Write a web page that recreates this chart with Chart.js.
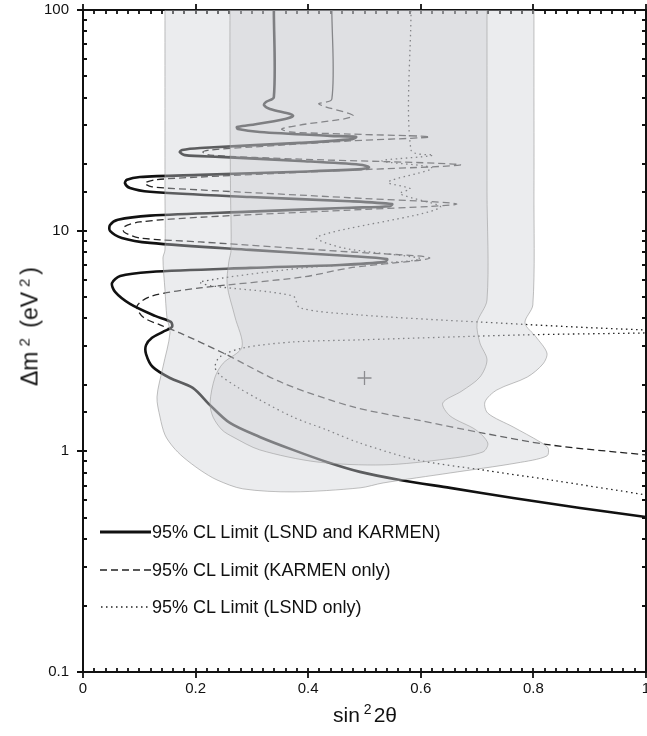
<!DOCTYPE html>
<html>
<head>
<meta charset="utf-8">
<script src="https://cdn.jsdelivr.net/npm/chart.js@4.4.1/dist/chart.umd.min.js"></script>
<style>
  body { margin: 0; background: #fff; }
  #wrap { position: relative; width: 647px; height: 736px; font-family: "Liberation Sans", Arial, sans-serif; color: #111; }
  canvas { position: absolute; left: 0; top: 0; }
  .ttl { position: absolute; font-size: 21px; white-space: nowrap; text-align: center; }
  .ttl sup { font-size: 14px; vertical-align: 0; position: relative; top: -8px; margin: 0 2px 0 4px; }
  #ytitle { left: -70px; top: 313px; width: 200px; font-size: 23px; transform: rotate(-90deg); }
  #ytitle sup { font-size: 15px; margin: 0 4px 0 5px; }
  #xtitle { left: 265px; top: 703px; width: 200px; }
  .leg { position: absolute; left: 100px; height: 22px; font-size: 18px; line-height: 22px; white-space: nowrap; }
  .leg svg { position: absolute; left: 0; top: 6px; }
  .leg span { position: absolute; left: 52px; top: 0; }
</style>
</head>
<body>
<div id="wrap">
  <canvas id="c" width="647" height="736"></canvas>
  <div class="ttl" id="ytitle">&Delta;m<sup>2</sup> (eV<sup>2</sup>)</div>
  <div class="ttl" id="xtitle">sin<sup>2</sup>2&theta;</div>
  <div class="leg" style="top:521px"><svg width="52" height="10"><line x1="0" y1="5" x2="51" y2="5" stroke="#111" stroke-width="3"/></svg><span>95% CL Limit (LSND and KARMEN)</span></div>
  <div class="leg" style="top:559px"><svg width="52" height="10"><line x1="0" y1="5" x2="51" y2="5" stroke="#222" stroke-width="1.3" stroke-dasharray="7 4"/></svg><span>95% CL Limit (KARMEN only)</span></div>
  <div class="leg" style="top:596px"><svg width="52" height="10"><line x1="1" y1="5" x2="51" y2="5" stroke="#222" stroke-width="1.3" stroke-dasharray="1.5 3.5"/></svg><span>95% CL Limit (LSND only)</span></div>
</div>
<script>
// sin^2 2theta , delta m^2 (eV^2)

// combined LSND + KARMEN limit
const limitBoth = [
  [0.339,100],[0.339,40.3],[0.325,38.3],[0.3215,37.1],[0.332,35.6],[0.368,33.8],[0.373,33.1],[0.359,32.1],
  [0.297,30.1],[0.2735,29.5],[0.275,28.9],[0.314,28.0],[0.439,26.9],[0.485,26.6],[0.478,26.0],[0.385,25.0],
  [0.208,23.7],[0.176,23.2],[0.172,22.7],[0.181,22.0],[0.243,21.6],[0.385,20.7],[0.492,19.9],[0.508,19.4],
  [0.495,19.0],[0.385,18.5],[0.208,17.9],[0.101,17.5],[0.078,17.0],[0.0746,16.4],[0.0835,15.6],[0.119,15.0],
  [0.297,14.2],[0.474,13.6],[0.549,13.2],[0.545,12.9],[0.474,12.7],[0.297,12.2],[0.119,11.7],[0.062,11.2],
  [0.048,10.6],[0.048,9.97],[0.069,9.27],[0.119,8.80],[0.297,8.18],[0.474,7.68],[0.540,7.44],[0.536,7.22],
  [0.456,6.99],[0.297,6.78],[0.119,6.50],[0.066,6.23],[0.0515,5.79],[0.057,5.28],[0.0835,4.66],[0.128,4.11],
  [0.156,3.86],[0.158,3.66],[0.142,3.48],[0.1226,3.27],[0.112,3.03],[0.112,2.76],[0.124,2.41],[0.1545,2.15],
  [0.195,1.94],[0.2256,1.62],[0.261,1.345],[0.314,1.162],[0.373,1.015],[0.433,0.895],[0.492,0.807],
  [0.563,0.742],[0.652,0.683],[0.764,0.615],[0.883,0.554],[1.0,0.504]
];

// KARMEN only
const limitKarmen = [
  [0.442,100],[0.442,39.5],[0.419,37.5],[0.480,33.1],[0.385,30.1],[0.353,28.9],[0.368,28.0],[0.474,27.4],
  [0.616,26.6],[0.474,25.5],[0.297,23.9],[0.2256,23.2],[0.213,22.7],[0.2256,22.0],[0.385,21.1],[0.670,19.9],
  [0.474,18.8],[0.208,17.5],[0.128,17.0],[0.110,16.4],[0.1226,15.8],[0.208,15.3],[0.474,14.1],[0.664,13.2],
  [0.474,12.4],[0.208,11.5],[0.101,10.95],[0.0728,10.4],[0.0728,9.87],[0.101,9.27],[0.208,8.89],[0.474,8.01],
  [0.616,7.52],[0.474,6.78],[0.391,6.17],[0.208,5.50],[0.1226,5.06],[0.096,4.56],[0.1066,4.06],[0.1368,3.74],
  [0.172,3.44],[0.249,2.79],[0.355,2.04],[0.480,1.59],[0.593,1.388],[0.7105,1.21],[0.8295,1.069],[1.0,0.963]
];

// LSND only
const limitLsnd = [
  [0.5826,100],[0.5826,23.2],[0.622,22.0],[0.531,20.7],[0.620,19.2],[0.542,16.6],[0.581,15.5],[0.563,14.7],
  [0.634,12.7],[0.4156,9.37],[0.462,8.35],[0.5986,7.44],[0.391,6.78],[0.208,5.86],[0.229,5.62],[0.373,5.06],
  [0.385,4.47],[0.492,4.15],[0.700,3.86],[1.0,3.55],[1.185,3.53],[1.0,3.44],[0.7815,3.37],[0.492,3.20],
  [0.373,3.13],[0.284,2.94],[0.243,2.68],[0.2345,2.41],[0.243,2.22],[0.2735,1.96],[0.314,1.71],[0.373,1.43],
  [0.433,1.25],[0.492,1.09],[0.593,0.914],[0.7105,0.823],[0.8295,0.742],[1.0,0.635]
];

// allowed regions (outer = light, inner = darker)
const regionOuter = [
  [0.1456,200],[0.1456,100],[0.1456,40],[0.1456,15],[0.1456,8.18],[0.142,7.52],[0.1456,5.39],[0.149,4.06],
  [0.1545,3.44],[0.142,2.41],[0.1314,1.764],[0.1368,1.43],[0.1456,1.187],[0.160,1.047],[0.1776,0.943],
  [0.208,0.823],[0.238,0.742],[0.284,0.676],[0.373,0.655],[0.492,0.683],[0.533,0.719],[0.652,0.798],
  [0.771,0.886],[0.824,0.953],[0.826,1.036],[0.812,1.103],[0.764,1.29],[0.719,1.49],[0.714,1.675],
  [0.735,1.897],[0.789,2.17],[0.817,2.49],[0.824,2.79],[0.8046,3.30],[0.785,3.82],[0.799,4.61],
  [0.801,15],[0.801,40],[0.801,100],[0.801,200]
];
const regionInner = [
  [0.261,200],[0.261,100],[0.261,40],[0.262,15],[0.263,8.18],[0.259,7.22],[0.256,5.68],[0.270,4.06],
  [0.2824,2.97],[0.249,2.51],[0.2345,2.17],[0.2256,1.656],[0.231,1.43],[0.247,1.25],[0.2664,1.162],
  [0.314,1.015],[0.4156,0.895],[0.533,0.868],[0.6465,0.924],[0.7105,0.994],[0.719,1.09],[0.698,1.25],
  [0.652,1.447],[0.639,1.656],[0.673,1.877],[0.705,2.17],[0.7176,2.595],[0.705,3.10],[0.700,3.82],
  [0.7176,4.85],[0.7176,15],[0.7176,40],[0.7176,100],[0.7176,200]
];

const bestFit = [[0.5, 2.15]];

const xTickStep = 0.02;
const yDecades = [0.1, 1, 10, 100];

const pts = arr => arr.map(([x, y]) => ({ x, y }));

function isDecade(v) {
  const l = Math.log10(v);
  return Math.abs(l - Math.round(l)) < 1e-6;
}

// frame + inward ticks on all four sides
const frameTicks = {
  id: 'frameTicks',
  beforeDatasetsDraw(chart) {
    const { ctx, chartArea: a, scales: { x, y } } = chart;
    ctx.save();
    ctx.strokeStyle = '#111';
    ctx.lineWidth = 2;
    ctx.strokeRect(a.left, a.top, a.right - a.left, a.bottom - a.top);
    ctx.lineWidth = 1.8;
    ctx.beginPath();
    x.ticks.forEach(t => {
      const p = Math.round(x.getPixelForValue(t.value));
      const out = t.label !== '' ? 6 : 0;
      ctx.moveTo(p, a.bottom + out); ctx.lineTo(p, a.bottom - 4);
      ctx.moveTo(p, a.top - out); ctx.lineTo(p, a.top + 4);
    });
    y.ticks.forEach(t => {
      const p = Math.round(y.getPixelForValue(t.value));
      const out = t.label !== '' ? 6 : 0;
      ctx.moveTo(a.left - out, p); ctx.lineTo(a.left + 4, p);
      ctx.moveTo(a.right + out, p); ctx.lineTo(a.right - 4, p);
    });
    ctx.stroke();
    ctx.restore();
  }
};

Chart.defaults.font.family = '"Liberation Sans", Arial, sans-serif';
Chart.defaults.font.size = 15;
Chart.defaults.color = '#111';

new Chart(document.getElementById('c'), {
  type: 'scatter',
  data: {
    datasets: [
      { data: pts(regionInner), showLine: true, fill: 'shape', tension: 0.3, pointRadius: 0,
        backgroundColor: 'rgba(198,200,204,0.32)', borderColor: 'rgba(150,150,150,0.55)', borderWidth: 1 },
      { data: pts(regionOuter), showLine: true, fill: 'shape', tension: 0.3, pointRadius: 0,
        backgroundColor: 'rgba(205,208,212,0.40)', borderColor: 'rgba(150,150,150,0.6)', borderWidth: 1 },
      { data: pts(bestFit), pointStyle: 'cross', pointRadius: 7, borderColor: '#333', borderWidth: 1.3 },
      { data: pts(limitBoth), showLine: true, tension: 0.3, pointRadius: 0, borderColor: '#111', borderWidth: 2.6 },
      { data: pts(limitKarmen), showLine: true, tension: 0.3, pointRadius: 0, borderColor: '#222', borderWidth: 1.3,
        borderDash: [7, 4], segment: { borderDash: c => c.p0DataIndex === 0 ? [] : undefined } },
      { data: pts(limitLsnd), showLine: true, tension: 0.3, pointRadius: 0, borderColor: '#222', borderWidth: 1.3,
        borderDash: [1.5, 3.5] }
    ]
  },
  options: {
    responsive: false,
    animation: false,
    devicePixelRatio: 1,
    layout: { autoPadding: false, padding: { top: 10, right: 1, left: 0, bottom: 0 } },
    plugins: { legend: { display: false }, tooltip: { enabled: false } },
    scales: {
      x: {
        type: 'linear', min: 0, max: 1,
        border: { display: false },
        grid: { display: false, drawTicks: false },
        ticks: {
          stepSize: xTickStep, autoSkip: false, maxRotation: 0, minRotation: 0, padding: 8,
          callback: v => {
            const r = v * 5, k = Math.round(r);
            if (Math.abs(r - k) > 1e-6) return '';
            return k === 0 ? '0' : k === 5 ? '1' : (k / 5).toFixed(1);
          }
        },
        afterFit: s => { s.height = 64; s.paddingLeft = 0; s.paddingRight = 0; }
      },
      y: {
        type: 'logarithmic', min: yDecades[0], max: yDecades[yDecades.length - 1],
        border: { display: false },
        grid: { display: false, drawTicks: false },
        ticks: {
          autoSkip: false, padding: 14,
          callback: v => isDecade(v) ? String(Math.pow(10, Math.round(Math.log10(v)))) : ''
        },
        afterFit: s => { s.width = 83; s.paddingTop = 0; s.paddingBottom = 0; }
      }
    }
  },
  plugins: [frameTicks]
});
</script>
</body>
</html>
